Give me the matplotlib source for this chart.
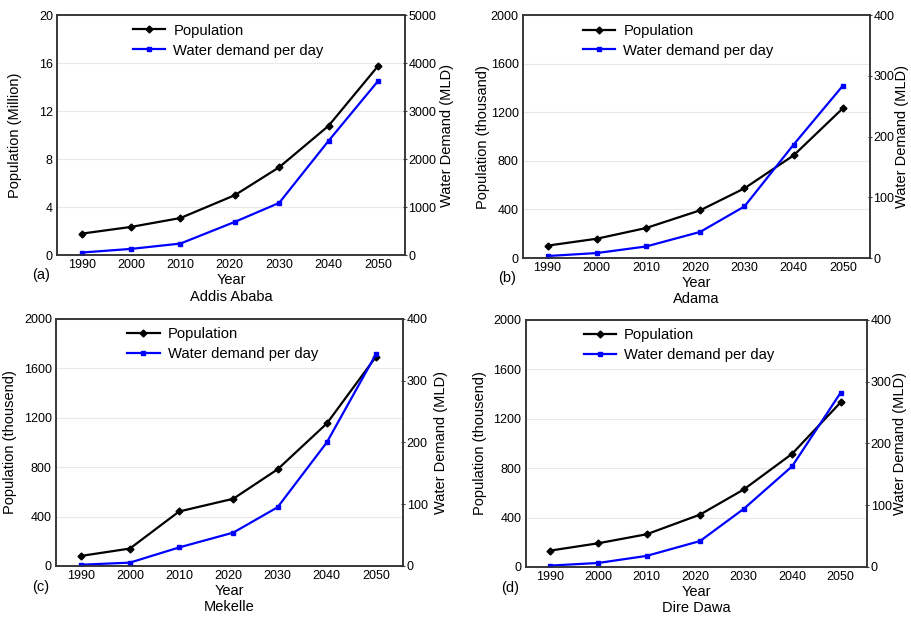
import numpy as np
import matplotlib.pyplot as plt

plt.rcParams['font.family'] = ['Liberation Sans', 'DejaVu Sans']

years = [1990, 2000, 2010, 2021, 2030, 2040, 2050]
xticks = [1990, 2000, 2010, 2020, 2030, 2040, 2050]

cities = ["Addis Ababa", "Adama", "Mekelle", "Dire Dawa"]
tags = ["(a)", "(b)", "(c)", "(d)"]

pop_addis = [1.8, 2.36, 3.1, 5.0, 7.33, 10.78, 15.75]
pop_adama = [102, 159, 247, 393, 574, 846, 1234]
pop_mekelle = [81, 141, 441, 544, 782, 1153, 1694]
pop_dire = [132, 192, 265, 424, 627, 916, 1332]

wd_addis = [56, 132, 243, 694, 1090, 2382, 3625]
wd_adama = [3.3, 8.2, 19, 43, 85, 187, 284]
wd_mekelle = [2, 5.4, 30, 54, 95, 200, 343]
wd_dire = [2.2, 6.5, 18, 42, 94, 163, 282]

pops = [pop_addis, pop_adama, pop_mekelle, pop_dire]
wds = [wd_addis, wd_adama, wd_mekelle, wd_dire]
pop_labels = ["Population (Million)", "Population (thousand)",
              "Population (thousend)", "Population (thousend)"]
pop_lims = [(0, 20, 4), (0, 2000, 400), (0, 2000, 400), (0, 2000, 400)]
wd_lims = [(0, 5000, 1000), (0, 400, 100), (0, 400, 100), (0, 400, 100)]

boxes = [
    [0.0626, 0.589, 0.382, 0.3865],
    [0.574, 0.5845, 0.381, 0.391],
    [0.0615, 0.0886, 0.381, 0.398],
    [0.577, 0.087, 0.375, 0.398],
]
left_lab_x = [-0.102, -0.095, -0.112, -0.114]
right_lab_x = [1.10, 1.072, 1.089, 1.076]
leg_x = [0.218, 0.173, 0.205, 0.17]

fig = plt.figure(figsize=(9.11, 6.21), dpi=100)

for i in range(4):
    ax = fig.add_axes(boxes[i])
    ax2 = ax.twinx()
    lo, hi, st = pop_lims[i]
    ax.set_ylim(lo, hi)
    ax.set_yticks(np.arange(lo, hi + st / 2, st))
    lo2, hi2, st2 = wd_lims[i]
    ax2.set_ylim(lo2, hi2)
    ax2.set_yticks(np.arange(lo2, hi2 + st2 / 2, st2))
    ax.set_xlim(1985, 2055.5)
    ax.set_xticks(xticks)

    ax.grid(axis='y', color='#ebe6e8', linewidth=0.8)
    ax.set_axisbelow(True)

    l1, = ax.plot(years, pops[i], color='black', marker='D', markersize=3.5,
                  linewidth=1.6, label="Population")
    l2, = ax2.plot(years, wds[i], color='#0000ff', marker='s', markersize=3.5,
                   linewidth=1.6, label="Water demand per day")

    ax.tick_params(axis='both', length=0, labelsize=9, pad=3)
    ax2.tick_params(axis='y', length=3, direction='inout', labelsize=9,
                    pad=1, color='#444444')
    for a in (ax, ax2):
        for s in a.spines.values():
            s.set_color('#333333')
            s.set_linewidth(1.1)

    ax.set_ylabel(pop_labels[i], fontsize=10.5)
    ax.yaxis.set_label_coords(left_lab_x[i], 0.5)
    ax2.set_ylabel("Water Demand (MLD)", fontsize=10.5)
    ax2.yaxis.set_label_coords(right_lab_x[i], 0.5)
    ax.set_xlabel("Year\n" + cities[i], fontsize=10.5, labelpad=1, linespacing=1.25)
    ax.text(-0.045, -0.055, tags[i], transform=ax.transAxes, fontsize=10.5,
            ha='center', va='top')

    ax.legend(handles=[l1, l2], loc='upper left', bbox_to_anchor=(leg_x[i], 0.965),
              frameon=False, fontsize=10.6, handlelength=2.2, handletextpad=0.55,
              labelspacing=0.4, borderaxespad=0, borderpad=0)

fig.savefig("out.png", dpi=100)
